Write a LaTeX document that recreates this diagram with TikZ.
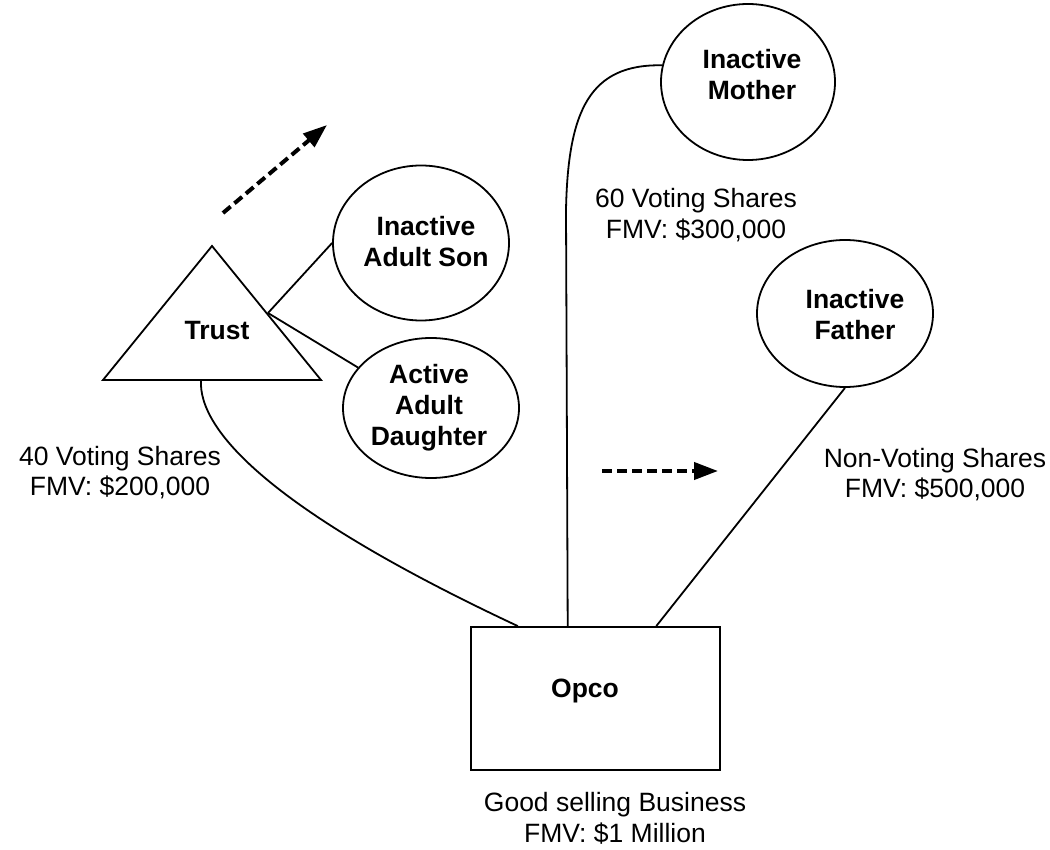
\documentclass[tikz,border=0pt]{standalone}
\usepackage{fontspec}
\setmainfont{Liberation Sans}
\usetikzlibrary{shapes.geometric,arrows.meta}
\begin{document}
\begin{tikzpicture}[x=1pt,y=-1pt,
  every node/.style={inner sep=0pt},
  wire/.style={line width=1.8pt},
  holder/.style={draw, ellipse, line width=1.8pt},
  who/.style={font=\fontsize{26.5}{31}\selectfont\bfseries, align=center},
  note/.style={font=\fontsize{26.5}{30.5}\selectfont, align=center},
  flow/.style={line width=4pt, dash pattern=on 10pt off 5pt,
    -{Triangle[length=24pt,width=17pt]}}
]
\useasboundingbox (0,0) rectangle (1050,850);

% family members
\node[holder, minimum width=174pt, minimum height=156pt] (mother) at (748,82) {};
\node[holder, minimum width=176pt, minimum height=155pt] (son) at (421,243) {};
\node[holder, minimum width=176pt, minimum height=140pt] (daughter) at (431,408) {};
\node[holder, minimum width=176pt, minimum height=147pt] (father) at (845,313.5) {};

\node[who] (motherlbl) at (752,75) {Inactive\\Mother};
\node[who] (sonlbl) at (426,242) {Inactive\\Adult Son};
\node[who] (daughterlbl) at (429,408) {Active\\Adult\\Daughter};
\node[who] (fatherlbl) at (855,315) {Inactive\\Father};

% the trust
\coordinate (tapex) at (212,246);
\coordinate (tleft) at (103,380);
\coordinate (tright) at (321,380);
\draw[wire, line join=miter] (tapex) -- (tright) -- (tleft) -- cycle;
\node[who] (trust) at (217,330.5) {Trust};
\coordinate (tside) at (268,313);
\coordinate (tbase) at (201,380);

% operating company
\node[draw, line width=1.8pt, minimum width=249pt, minimum height=143pt] (opco) at (595.5,698.5) {};
\node[who] (opcolbl) at (585,691) {Opco};

% ownership links
\draw[wire] (tside) -- (son.west);
\draw[wire] (tside) -- (daughter.151);
\draw[wire] (tbase) .. controls (198,430) and (270,510) .. (opco.137.3);
\draw[wire] (mother.169) .. controls (590,64) and (568,110) .. (566,210) -- (opco.111.7);
\draw[wire] (father.south) -- (opco.50.2);

% share notes
\node[note] (n40) at (120,472.5) {40 Voting Shares\\FMV: \$200,000};
\node[note] (n60) at (696,215) {60 Voting Shares\\FMV: \$300,000};
\node[note] (nnv) at (935,474.5) {Non-Voting Shares\\FMV: \$500,000};
\node[note] (nbiz) at (615,818.5) {Good selling Business\\FMV: \$1 Million};

% value shift arrows
\coordinate (f1a) at (223,213);
\coordinate (f1b) at (327,125);
\coordinate (f2a) at (602,471);
\coordinate (f2b) at (718,471);
\draw[flow] (f1a) -- (f1b);
\draw[flow] (f2a) -- (f2b);
\end{tikzpicture}
\end{document}
